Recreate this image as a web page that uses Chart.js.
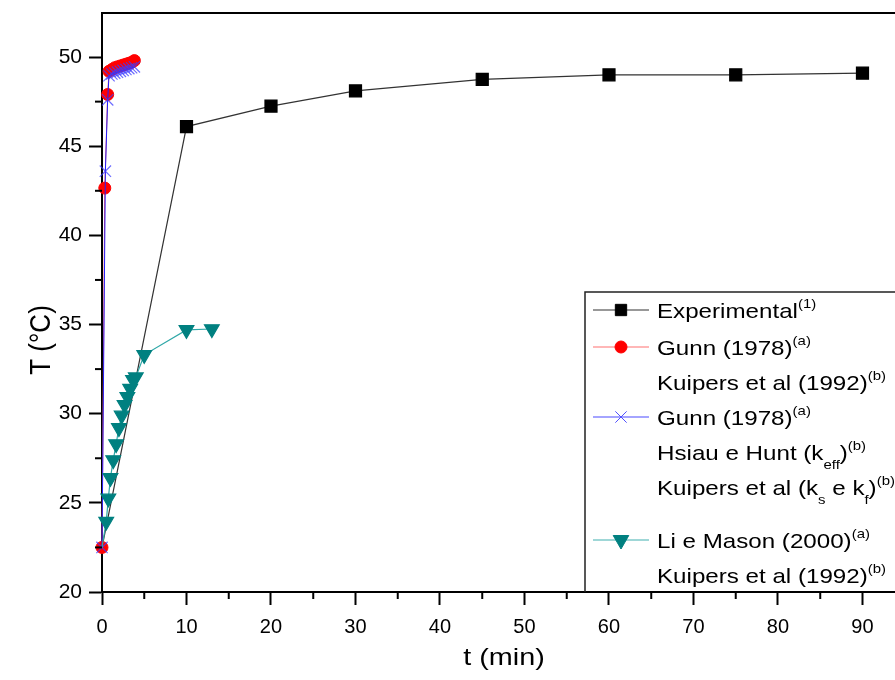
<!DOCTYPE html>
<html lang="pt">
<head>
<meta charset="utf-8">
<title>T x t</title>
<script src="https://cdn.jsdelivr.net/npm/chart.js@4.4.0/dist/chart.umd.min.js"></script>
<style>
  html, body { margin: 0; padding: 0; background: #fff; overflow: hidden; }
  #wrap { width: 895px; height: 680px; }
</style>
</head>
<body>
<div id="wrap"><canvas id="grafico"></canvas></div>

<script>
// dados
var expTempo   = [0, 10, 20, 30, 45, 60, 75, 90];
var expTemp    = [22.5, 46.1, 47.25, 48.1, 48.75, 49.0, 49.0, 49.1];

var gunnKTempo = [0, 0.33, 0.67, 0.83, 1.17, 1.5, 1.83, 2.17, 2.5, 2.83, 3.17, 3.5, 3.83];
var gunnKTemp  = [22.5, 42.65, 47.9, 49.2, 49.3, 49.4, 49.45, 49.5, 49.55, 49.6, 49.65, 49.7, 49.8];

var gunnHTempo = [0, 0.4, 0.67, 0.83, 1.17, 1.5, 1.83, 2.17, 2.5, 2.83, 3.17, 3.5, 3.83];
var gunnHTemp  = [22.5, 43.6, 47.6, 48.95, 49.05, 49.1, 49.15, 49.2, 49.25, 49.3, 49.35, 49.4, 49.45];

var liTempo    = [0, 0.5, 0.75, 1.0, 1.33, 1.67, 2.0, 2.33, 2.67, 3.0, 3.33, 3.67, 4.0, 5.0, 10.0, 13.0];
var liTemp     = [22.5, 23.95, 25.25, 26.4, 27.4, 28.3, 29.2, 29.9, 30.5, 30.95, 31.4, 31.9, 32.05, 33.3, 34.7, 34.75];

var xTicks = [0, 10, 20, 30, 40, 50, 60, 70, 80, 90];
var yTicks = [20, 25, 30, 35, 40, 45, 50];

function pares(xs, ys) {
  return xs.map(function(x, i) { return { x: x, y: ys[i] }; });
}

var FONTE = "'Liberation Sans', Arial, sans-serif";

// texto com sobrescrito / subscrito, esticado na horizontal como no original
function textoRico(ctx, partes, x, y, tam, esticar) {
  ctx.save();
  ctx.translate(x, y);
  ctx.scale(esticar, 1);
  var cx = 0;
  partes.forEach(function(p) {
    var t = p[0], tipo = p[1] || 'n';
    var f = tam, dy = 0;
    if (tipo === 'sup') { f = Math.round(tam * 0.62); dy = -10; }
    if (tipo === 'sub') { f = Math.round(tam * 0.62); dy = 9; }
    ctx.font = f + 'px ' + FONTE;
    ctx.fillStyle = '#000';
    ctx.textBaseline = 'alphabetic';
    ctx.fillText(t, cx, dy);
    cx += ctx.measureText(t).width;
  });
  ctx.restore();
}

var legenda = [
  { y: 318, linha: 310, cor: '#333', marca: 'rect', r: 8, fill: '#000', borda: '#000', rot: 0,
    txt: [['Experimental'], ['(1)', 'sup']] },
  { y: 355, linha: 347, cor: '#ff7070', marca: 'circle', r: 6, fill: '#ff0000', borda: '#ff0000', rot: 0,
    txt: [['Gunn (1978)'], ['(a)', 'sup']] },
  { y: 390, txt: [['Kuipers et al (1992)'], ['(b)', 'sup']] },
  { y: 425, linha: 417, cor: '#4a4aff', marca: 'crossRot', r: 8, fill: '#5050ff', borda: '#5050ff', rot: 0,
    txt: [['Gunn (1978)'], ['(a)', 'sup']] },
  { y: 460, txt: [['Hsiau e Hunt (k'], ['eff', 'sub'], [')'], ['(b)', 'sup']] },
  { y: 495, txt: [['Kuipers et al (k'], ['s', 'sub'], [' e k'], ['f', 'sub'], [')'], ['(b)', 'sup']] },
  { y: 548, linha: 540, cor: '#40b0b0', marca: 'triangle', r: 9, fill: '#008080', borda: '#008080', rot: 180,
    txt: [['Li e Mason (2000)'], ['(a)', 'sup']] },
  { y: 583, txt: [['Kuipers et al (1992)'], ['(b)', 'sup']] }
];

var extras = {
  id: 'extras',
  afterDraw: function(chart) {
    var ctx = chart.ctx, a = chart.chartArea;
    var sx = chart.scales.x, sy = chart.scales.y;
    ctx.save();
    // borda superior e prolongamento do eixo x ate a borda
    ctx.strokeStyle = '#000';
    ctx.lineWidth = 2;
    ctx.beginPath();
    ctx.moveTo(a.left - 1, a.top);
    ctx.lineTo(chart.width, a.top);
    ctx.moveTo(a.right - 1, a.bottom);
    ctx.lineTo(chart.width, a.bottom);
    ctx.stroke();
    // tracos menores
    ctx.lineWidth = 2;
    [5, 15, 25, 35, 45, 55, 65, 75, 85].forEach(function(v) {
      var px = sx.getPixelForValue(v);
      ctx.beginPath();
      ctx.moveTo(px, a.bottom);
      ctx.lineTo(px, a.bottom + 7);
      ctx.stroke();
    });
    [22.5, 27.5, 32.5, 37.5, 42.5, 47.5].forEach(function(v) {
      var py = sy.getPixelForValue(v);
      ctx.beginPath();
      ctx.moveTo(a.left, py);
      ctx.lineTo(a.left - 7, py);
      ctx.stroke();
    });
    // titulos dos eixos
    ctx.fillStyle = '#000';
    ctx.save();
    ctx.translate(42, 340);
    ctx.rotate(-Math.PI / 2);
    ctx.font = '26px ' + FONTE;
    ctx.textAlign = 'center';
    ctx.textBaseline = 'middle';
    ctx.scale(1, 1.1);
    ctx.fillText('T (\u00B0C)', 0, 0);
    ctx.restore();
    ctx.save();
    ctx.translate(504, 658);
    ctx.scale(1.2, 1);
    ctx.font = '24px ' + FONTE;
    ctx.textAlign = 'center';
    ctx.textBaseline = 'middle';
    ctx.fillText('t (min)', 0, 0);
    ctx.restore();
    // caixa da legenda
    ctx.strokeStyle = '#222';
    ctx.lineWidth = 1.5;
    ctx.beginPath();
    ctx.moveTo(585, a.bottom);
    ctx.lineTo(585, 292);
    ctx.lineTo(chart.width, 292);
    ctx.stroke();
    legenda.forEach(function(it) {
      if (it.marca) {
        ctx.strokeStyle = it.cor;
        ctx.lineWidth = 1.2;
        ctx.beginPath();
        ctx.moveTo(593, it.linha);
        ctx.lineTo(649, it.linha);
        ctx.stroke();
        ctx.fillStyle = it.fill;
        ctx.strokeStyle = it.borda;
        ctx.lineWidth = 1;
        Chart.helpers.drawPoint(ctx, { pointStyle: it.marca, radius: it.r, rotation: it.rot, borderWidth: 1 }, 621, it.linha);
      }
      textoRico(ctx, it.txt, 657, it.y, 21, 1.15);
    });
    ctx.restore();
  }
};

function semPadding(s) {
  s.paddingTop = 0;
  s.paddingBottom = 0;
  s.paddingLeft = 0;
  s.paddingRight = 0;
}

var config = {
  type: 'line',
  data: {
    datasets: [{
      label: 'Experimental',
      data: pares(expTempo, expTemp),
      borderColor: '#333',
      borderWidth: 1.2,
      pointStyle: 'rect',
      pointRadius: expTempo.map(function(v, i) { return i === 0 ? 0 : 8.5; }),
      pointBackgroundColor: '#000',
      pointBorderColor: '#000',
      order: 4
    }, {
      label: 'Gunn (1978) Kuipers et al (1992)',
      data: pares(gunnKTempo, gunnKTemp),
      borderColor: '#ff5050',
      borderWidth: 1,
      pointStyle: 'circle',
      pointRadius: 6,
      pointBackgroundColor: '#ff0000',
      pointBorderColor: '#ff0000',
      order: 3
    }, {
      label: 'Gunn (1978) Hsiau e Hunt',
      data: pares(gunnHTempo, gunnHTemp),
      borderColor: '#2020ff',
      borderWidth: 1,
      pointStyle: 'crossRot',
      pointRadius: 8,
      pointBorderWidth: 1.2,
      pointBorderColor: 'rgba(60,60,255,0.75)',
      order: 2
    }, {
      label: 'Li e Mason (2000)',
      data: pares(liTempo, liTemp),
      borderColor: '#30a8a8',
      borderWidth: 1.2,
      pointStyle: 'triangle',
      rotation: 180,
      pointRadius: liTempo.map(function(v, i) { return i === 0 ? 0 : 8.5; }),
      pointBackgroundColor: '#008080',
      pointBorderColor: '#008080',
      order: 1
    }]
  },
  options: {
    responsive: false,
    animation: false,
    parsing: false,
    layout: { padding: { top: 13, right: 0, left: 0, bottom: 0 } },
    plugins: { legend: { display: false }, tooltip: { enabled: false } },
    datasets: { line: { clip: false, tension: 0 } },
    scales: {
      x: {
        type: 'linear',
        min: 0,
        max: 92.7,
        afterFit: function(s) { s.height = 88; semPadding(s); },
        afterBuildTicks: function(s) { s.ticks = xTicks.map(function(v) { return { value: v }; }); },
        grid: { drawOnChartArea: false, drawTicks: true, tickLength: 13, tickColor: '#000', tickWidth: 2 },
        border: { display: true, color: '#000', width: 2 },
        ticks: { color: '#000', font: { family: FONTE, size: 20 }, padding: 10, maxRotation: 0 }
      },
      y: {
        type: 'linear',
        min: 20,
        max: 52.47,
        afterFit: function(s) { s.width = 102; semPadding(s); },
        afterBuildTicks: function(s) { s.ticks = yTicks.map(function(v) { return { value: v }; }); },
        grid: { drawOnChartArea: false, drawTicks: true, tickLength: 13, tickColor: '#000', tickWidth: 2 },
        border: { display: true, color: '#000', width: 2 },
        ticks: { color: '#000', font: { family: FONTE, size: 21 }, padding: 7 }
      }
    }
  },
  plugins: [extras]
};

window.onload = function() {
  var cv = document.getElementById('grafico');
  cv.width = 895;
  cv.height = 680;
  new Chart(cv.getContext('2d'), config);
};
</script>
</body>
</html>
